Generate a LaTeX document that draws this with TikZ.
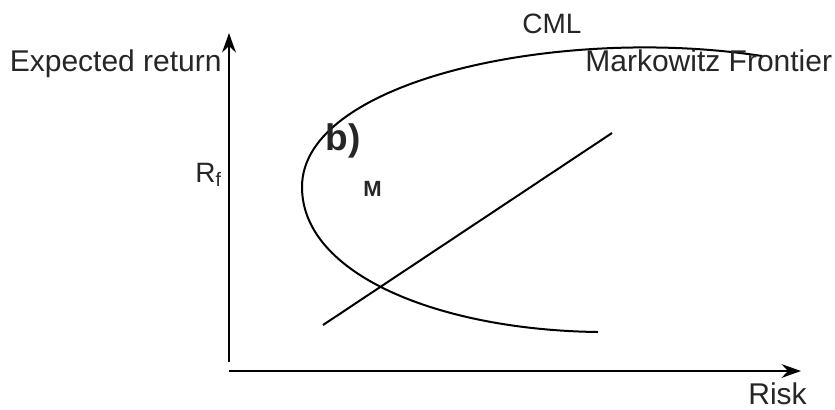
\documentclass[tikz,border=0pt]{standalone}
\usepackage{fontspec}
\setmainfont{Liberation Sans}
\usetikzlibrary{
  arrows.meta,
  positioning
}
\definecolor{MKInk}{HTML}{262626}
\tikzset{
  mkaxis/.style={
    -{Stealth[length=3.4mm,width=2.4mm]},
    line width=1.2pt,
    color=black
  },
  mkcurve/.style={
    line width=1pt,
    color=black
  },
  mklabel/.style={
    font=\fontsize{15}{18}\selectfont,
    text=MKInk,
    inner sep=0pt
  }
}

\begin{document}
\begin{tikzpicture}[x=0.5pt,y=-0.5pt]
  \useasboundingbox (0,0) rectangle (835,409);

  % axes
  \coordinate (ybot) at (229,362);
  \coordinate (ytop) at (229,33);
  \coordinate (xleft) at (229,371);
  \coordinate (xright) at (801,371);
  \draw[mkaxis] (ybot) -- (ytop);
  \draw[mkaxis] (xleft) -- (xright);

  \node[mklabel,anchor=base east] (ylab) at (222,71) {Expected return};
  \node[mklabel,anchor=base west] (xlab) at (748,404) {Risk};
  \node[mklabel,anchor=base west,font=\fontsize{14}{17}\selectfont] (rf)
    at (195,182) {R\textsubscript{f}};

  % frontier and capital market line
  \coordinate (mfTop) at (762,56);
  \coordinate (mfTip) at (302,187);
  \coordinate (mfEnd) at (598,332);
  \draw[mkcurve] (mfTop) .. controls (560,25) and (302,80) .. (mfTip)
    .. controls (302,275) and (440,330) .. (mfEnd);

  \coordinate (cmlA) at (323,325);
  \coordinate (cmlB) at (612,133);
  \draw[mkcurve] (cmlA) -- (cmlB);

  \node[mklabel,anchor=base west,font=\fontsize{14}{17}\selectfont] (cml)
    at (522,33) {CML};
  \node[mklabel,anchor=base west] (mf) at (585,71) {Markowitz Frontier};
  \node[mklabel,anchor=base west,font=\bfseries\fontsize{18.5}{22}\selectfont]
    (bpart) at (325,150) {b)};
  \node[mklabel,anchor=base west,font=\bfseries\fontsize{11}{13}\selectfont]
    (mpt) at (363,196) {M};
\end{tikzpicture}
\end{document}
